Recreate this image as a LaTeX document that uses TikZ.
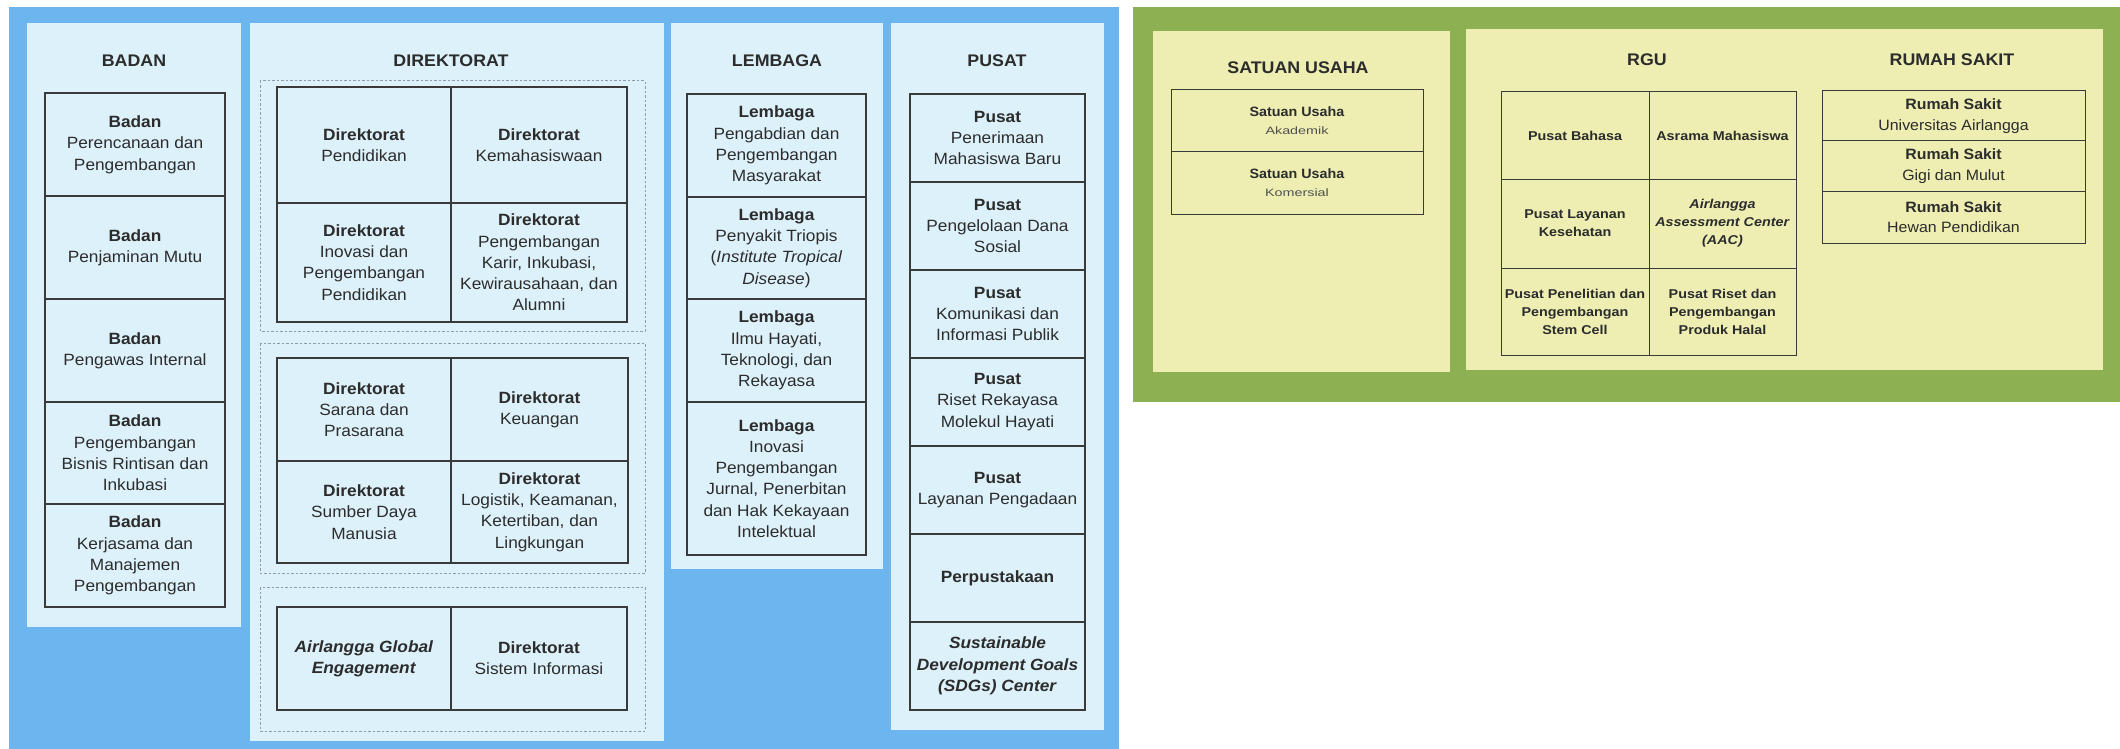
\documentclass[tikz,border=0pt]{standalone}
\usepackage{fontspec}
\setmainfont{Liberation Sans}
\newfontfamily\widef{Liberation Sans}[FakeStretch=1.06]
\newfontfamily\xwidef{Liberation Sans}[FakeStretch=1.34]
\newfontfamily\rguf{Liberation Sans}[FakeStretch=1.12]
\definecolor{bluebg}{HTML}{6DB5EE}
\definecolor{cyanp}{HTML}{DDF1FA}
\definecolor{greenbg}{HTML}{8CB052}
\definecolor{yelp}{HTML}{EEEEB3}
\definecolor{cline}{HTML}{3A3A3A}
\definecolor{dashc}{HTML}{8C9CAC}
\definecolor{txt}{HTML}{2C2C2C}
\definecolor{subtxt}{HTML}{505050}
\newcommand\cellnode[7]{\node[#1, minimum width={#5-#3}, minimum height={#6-#4}] (#2) at ({(#3+#5)/2},{(#4+#6)/2}) {#7};}
\tikzset{
  cellbase/.style={draw=cline, line width=1.4pt, align=center, inner sep=1pt, text=txt},
  cellL/.style={cellbase, font=\widef\fontsize{16.3}{21.3}\selectfont},
  cellSU/.style={cellbase, line width=1pt, font=\widef\fontsize{13.5}{18}\selectfont},
  cellR/.style={cellbase, line width=1pt, font=\rguf\fontsize{12.8}{18}\selectfont\bfseries},
  cellRS/.style={cellbase, line width=1pt, font=\widef\fontsize{15}{20.5}\selectfont},
  titleW/.style={text=txt, font=\widef\bfseries\fontsize{16.8}{20}\selectfont},
  dashg/.style={draw=dashc, line width=1pt, dash pattern=on 2.5pt off 2pt},
}
\begin{document}
\begin{tikzpicture}[x=1pt,y=-1pt]
\useasboundingbox (0,0) rectangle (2120,749);
\fill[white] (0,0) rectangle (2120,749);
% ===== blue area =====
\fill[bluebg] (9,7) rectangle (1119,749);
\fill[cyanp] (27,23) rectangle (241,627);
\fill[cyanp] (250,23) rectangle (664,741);
\fill[cyanp] (671,23) rectangle (883,569);
\fill[cyanp] (891,23) rectangle (1104,730);
\node[titleW] (tbadan) at (134,61) {BADAN};
\node[titleW] (tdir) at (451,61) {DIREKTORAT};
\node[titleW] (tlem) at (777,61) {LEMBAGA};
\node[titleW] (tpus) at (997,61) {PUSAT};
% BADAN
\cellnode{cellL}{b1}{45}{93}{225}{196}{\textbf{Badan}\\Perencanaan dan\\Pengembangan}
\cellnode{cellL}{b2}{45}{196}{225}{299}{\textbf{Badan}\\Penjaminan Mutu}
\cellnode{cellL}{b3}{45}{299}{225}{402}{\textbf{Badan}\\Pengawas Internal}
\cellnode{cellL}{b4}{45}{402}{225}{504}{\textbf{Badan}\\Pengembangan\\Bisnis Rintisan dan\\Inkubasi}
\cellnode{cellL}{b5}{45}{504}{225}{607}{\textbf{Badan}\\Kerjasama dan\\Manajemen\\Pengembangan}
% DIREKTORAT
\draw[dashg] (260,81) rectangle (645,331);
\draw[dashg] (260,343) rectangle (645,573);
\draw[dashg] (260,587) rectangle (645,731);
\cellnode{cellL}{d1}{277}{87}{451}{203}{\textbf{Direktorat}\\Pendidikan}
\cellnode{cellL}{d2}{451}{87}{627}{203}{\textbf{Direktorat}\\Kemahasiswaan}
\cellnode{cellL}{d3}{277}{203}{451}{322}{\textbf{Direktorat}\\Inovasi dan\\Pengembangan\\Pendidikan}
\cellnode{cellL}{d4}{451}{203}{627}{322}{\textbf{Direktorat}\\Pengembangan\\Karir, Inkubasi,\\Kewirausahaan, dan\\Alumni}
\cellnode{cellL}{d5}{277}{358}{451}{461}{\textbf{Direktorat}\\Sarana dan\\Prasarana}
\cellnode{cellL}{d6}{451}{358}{628}{461}{\textbf{Direktorat}\\Keuangan}
\cellnode{cellL}{d7}{277}{461}{451}{563}{\textbf{Direktorat}\\Sumber Daya\\Manusia}
\cellnode{cellL}{d8}{451}{461}{628}{563}{\textbf{Direktorat}\\Logistik, Keamanan,\\Ketertiban, dan\\Lingkungan}
\cellnode{cellL}{d9}{277}{607}{451}{710}{\textbf{\textit{Airlangga Global}}\\\textbf{\textit{Engagement}}}
\cellnode{cellL}{d10}{451}{607}{627}{710}{\textbf{Direktorat}\\Sistem Informasi}
% LEMBAGA
\cellnode{cellL}{l1}{687}{94}{866}{197}{\textbf{Lembaga}\\Pengabdian dan\\Pengembangan\\Masyarakat}
\cellnode{cellL}{l2}{687}{197}{866}{299}{\textbf{Lembaga}\\Penyakit Triopis\\(\textit{Institute Tropical}\\\textit{Disease})}
\cellnode{cellL}{l3}{687}{299}{866}{402}{\textbf{Lembaga}\\Ilmu Hayati,\\Teknologi, dan\\Rekayasa}
\cellnode{cellL}{l4}{687}{402}{866}{555}{\textbf{Lembaga}\\Inovasi\\Pengembangan\\Jurnal, Penerbitan\\dan Hak Kekayaan\\Intelektual}
% PUSAT
\cellnode{cellL}{p1}{910}{94}{1085}{182}{\textbf{Pusat}\\Penerimaan\\Mahasiswa Baru}
\cellnode{cellL}{p2}{910}{182}{1085}{270}{\textbf{Pusat}\\Pengelolaan Dana\\Sosial}
\cellnode{cellL}{p3}{910}{270}{1085}{358}{\textbf{Pusat}\\Komunikasi dan\\Informasi Publik}
\cellnode{cellL}{p4}{910}{358}{1085}{446}{\textbf{Pusat}\\Riset Rekayasa\\Molekul Hayati}
\cellnode{cellL}{p5}{910}{446}{1085}{534}{\textbf{Pusat}\\Layanan Pengadaan}
\cellnode{cellL}{p6}{910}{534}{1085}{622}{\textbf{Perpustakaan}}
\cellnode{cellL}{p7}{910}{622}{1085}{710}{\textbf{\textit{Sustainable}}\\\textbf{\textit{Development Goals}}\\\textbf{\textit{(SDGs) Center}}}
% ===== green area =====
\fill[greenbg] (1133,7) rectangle (2120,402);
\fill[yelp] (1153,31) rectangle (1450,372);
\fill[yelp] (1466,29) rectangle (2103,370);
\node[titleW] (tsu) at (1298,68) {SATUAN USAHA};
\node[titleW] (trgu) at (1647,60) {RGU};
\node[titleW] (trs) at (1952,60) {RUMAH SAKIT};
% Satuan Usaha
\cellnode{cellSU}{s1}{1171}{90}{1423}{152}{\textbf{Satuan Usaha}\\{\xwidef\fontsize{10.7}{13}\selectfont\color{subtxt}Akademik}}
\cellnode{cellSU}{s2}{1171}{152}{1423}{214}{\textbf{Satuan Usaha}\\{\xwidef\fontsize{10.7}{13}\selectfont\color{subtxt}Komersial}}
% RGU
\cellnode{cellR}{r1}{1501}{92}{1649}{179}{Pusat Bahasa}
\cellnode{cellR}{r2}{1649}{92}{1796}{179}{Asrama Mahasiswa}
\cellnode{cellR}{r3}{1501}{179}{1649}{268}{Pusat Layanan\\Kesehatan}
\cellnode{cellR}{r4}{1649}{179}{1796}{268}{\textit{Airlangga}\\\textit{Assessment Center}\\\textit{(AAC)}}
\cellnode{cellR}{r5}{1501}{268}{1649}{355}{Pusat Penelitian dan\\Pengembangan\\Stem Cell}
\cellnode{cellR}{r6}{1649}{268}{1796}{355}{Pusat Riset dan\\Pengembangan\\Produk Halal}
% Rumah Sakit
\cellnode{cellRS}{rs1}{1822}{91}{2085}{141}{\textbf{Rumah Sakit}\\Universitas Airlangga}
\cellnode{cellRS}{rs2}{1822}{141}{2085}{191}{\textbf{Rumah Sakit}\\Gigi dan Mulut}
\cellnode{cellRS}{rs3}{1822}{191}{2085}{243}{\textbf{Rumah Sakit}\\Hewan Pendidikan}
\end{tikzpicture}
\end{document}
